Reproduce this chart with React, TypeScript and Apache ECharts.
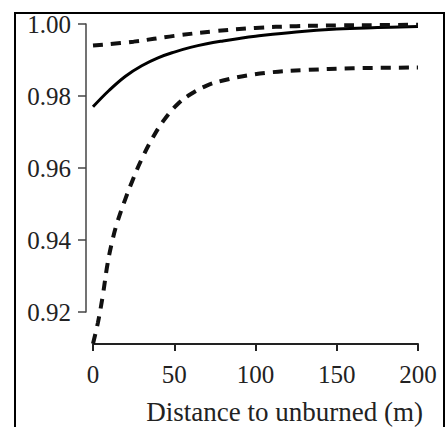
import React, { useEffect, useRef } from "react";
import * as echarts from "echarts";

const xTicks = [0, 50, 100, 150, 200];
const yTicks = [0.92, 0.94, 0.96, 0.98, 1.0];

const solidX = [0, 10, 20, 30, 40, 50, 60, 70, 80, 90, 100, 125, 150, 175, 200];
const solidY = [0.977, 0.9816, 0.9855, 0.9884, 0.9906, 0.9922, 0.9935, 0.9945, 0.9953, 0.996, 0.9966, 0.9978, 0.9986, 0.999, 0.9993];

const upperX = [0, 25, 50, 75, 100, 125, 150, 175, 200];
const upperY = [0.994, 0.9951, 0.9967, 0.998, 0.9989, 0.9994, 0.9996, 0.9997, 0.9998];

const lowerX = [0, 3, 6, 9, 12, 15, 20, 25, 30, 37, 44, 52, 60, 70, 80, 95, 110, 130, 160, 200];
const lowerY = [0.9112, 0.917, 0.9245, 0.9335, 0.94, 0.945, 0.9515, 0.9573, 0.9625, 0.9686, 0.9735, 0.9777, 0.9805, 0.9829, 0.9843, 0.9857, 0.9866, 0.9872, 0.9877, 0.9879];

const xName = "Distance to unburned (m)";

const FONT = "Liberation Serif";

function pairs(xs: number[], ys: number[]) {
  return xs.map((x, i) => [x, ys[i]]);
}

export default function App() {
  const ref = useRef<HTMLDivElement>(null);
  useEffect(() => {
    if (!ref.current) return;
    const chart = echarts.init(ref.current, null, { renderer: "svg" });
    const yMin = yTicks[0];
    const yMax = yTicks[yTicks.length - 1];
    chart.setOption({
      animation: false,
      backgroundColor: "#fff",
      grid: [
        { left: 93, right: 28, top: 24, bottom: 115 },
        { left: 86, right: 28, top: 24, bottom: 115 },
      ],
      xAxis: [
        {
          type: "value",
          gridIndex: 0,
          min: xTicks[0],
          max: xTicks[xTicks.length - 1],
          interval: 50,
          offset: 32,
          splitLine: { show: false },
          axisLine: { show: true, lineStyle: { color: "#222", width: 2 } },
          axisTick: { show: true, length: 7, lineStyle: { color: "#222", width: 2 } },
          axisLabel: { color: "#222", fontFamily: FONT, fontSize: 25, margin: 18 },
        },
        {
          type: "value",
          gridIndex: 1,
          min: 0,
          max: 1,
          show: false,
        },
      ],
      yAxis: [
        {
          type: "value",
          gridIndex: 0,
          min: yMin,
          max: yMax,
          show: false,
        },
        {
          type: "value",
          gridIndex: 1,
          min: yMin,
          max: yMax,
          interval: 0.02,
          splitLine: { show: false },
          axisLine: { show: true, lineStyle: { color: "#444", width: 1.5 } },
          axisTick: { show: true, length: 8, lineStyle: { color: "#444", width: 1.5 } },
          axisLabel: {
            color: "#222",
            fontFamily: FONT,
            fontSize: 25,
            margin: 15,
            padding: [8, 0, 0, 0],
            formatter: (v: number) => v.toFixed(2),
          },
        },
      ],
      graphic: [
        {
          type: "rect",
          shape: { x: 15, y: 13, width: 429, height: 440 },
          style: { fill: "none", stroke: "#000", lineWidth: 2 },
          silent: true,
        },
        {
          type: "text",
          right: 23,
          top: 398,
          style: { text: xName, fontFamily: FONT, fontSize: 27, fill: "#222" },
        },
      ],
      series: [
        {
          type: "line",
          xAxisIndex: 0,
          yAxisIndex: 0,
          data: pairs(solidX, solidY),
          smooth: 0.4,
          symbol: "none",
          clip: false,
          lineStyle: { color: "#000", width: 3 },
        },
        {
          type: "line",
          xAxisIndex: 0,
          yAxisIndex: 0,
          data: pairs(upperX, upperY),
          smooth: 0.4,
          symbol: "none",
          clip: false,
          lineStyle: { color: "#111", width: 4, type: [10, 8] },
        },
        {
          type: "line",
          xAxisIndex: 0,
          yAxisIndex: 0,
          data: pairs(lowerX, lowerY),
          smooth: 0.4,
          symbol: "none",
          clip: false,
          lineStyle: { color: "#111", width: 4, type: [10, 8] },
        },
      ],
    });
    return () => chart.dispose();
  }, []);
  return (
    <div
      ref={ref}
      style={{ position: "fixed", left: 0, top: 0, width: 446, height: 427 }}
    />
  );
}
